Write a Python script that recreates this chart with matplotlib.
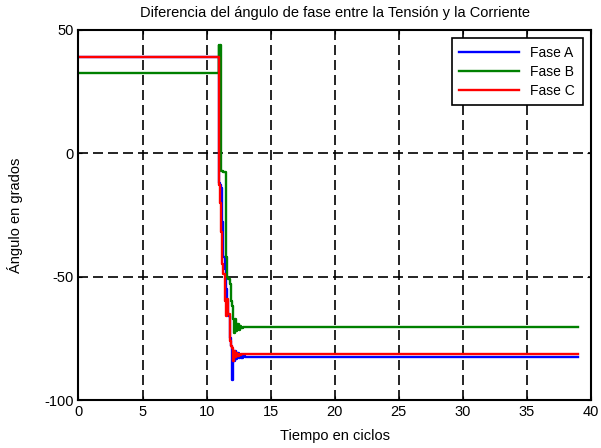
import numpy as np
import matplotlib
matplotlib.use("Agg")
import matplotlib.pyplot as plt

plt.rcParams['font.family'] = ['Liberation Sans', 'DejaVu Sans']
plt.rcParams['axes.unicode_minus'] = False

# tiempo (ciclos) y ángulo de fase por fase
t = [0, 10.95, 11.0, 11.05, 11.1, 11.2, 11.3, 11.4, 11.5, 11.6, 11.7, 11.8, 11.9,
     12.0, 12.05, 12.1, 12.2, 12.3, 12.4, 12.5, 12.6, 12.7, 12.8, 13.0, 39]
fase_a = [39, 39, -12, -13, -14, -28, -42, -47, -55, -60, -66, -75, -78,
          -92, -80, -84, -80, -83.5, -81, -83, -82, -82.8, -82.2, -82.4, -82.4]
fase_b = [32.6, 44, 33, 44, -7, -7.2, -7.5, -7.5, -42, -50, -51, -53, -60,
          -62, -67, -73, -67, -72, -69, -71.5, -70, -70.8, -70.3, -70.3, -70.3]
fase_c = [39, 39, -12.8, -20, -32, -45, -49, -60, -66, -59, -65, -76, -78,
          -79, -84, -80, -82.5, -81, -82, -81.3, -81.7, -81.5, -81.5, -81.5, -81.5]

fig = plt.figure(figsize=(6.01, 4.48), dpi=100)
ax = fig.add_axes([0.1306, 0.1071, 0.8528, 0.826])

ax.plot(t, fase_a, color='#0000ff', lw=1.7, drawstyle='steps-post', label='Fase A')
ax.plot(t, fase_b, color='#008000', lw=1.7, drawstyle='steps-post', label='Fase B')
ax.plot(t, fase_c, color='#ff0000', lw=1.7, drawstyle='steps-post', label='Fase C')

ax.set_xlim(0, 40)
ax.set_ylim(-100, 50)
ax.set_xticks(np.arange(0, 41, 5))
ax.set_yticks([-100, -50, 0, 50])
ax.grid(True, color='black', linestyle=(0, (6, 3)), linewidth=1.2)
ax.tick_params(direction='in', top=True, right=True, length=3, labelsize=10.5)
for s in ax.spines.values():
    s.set_linewidth(1.5)

ax.set_title('Diferencia del ángulo de fase entre la Tensión y la Corriente', fontsize=10.5, pad=9)
ax.set_xlabel('Tiempo en ciclos', fontsize=10.5, labelpad=7)
ax.set_ylabel('Ángulo en grados', fontsize=10.5, labelpad=15)

leg = ax.legend(loc='upper right', fontsize=10, fancybox=False, framealpha=1,
                edgecolor='black', borderaxespad=0.6, handlelength=4.3,
                labelspacing=0.35, borderpad=0.55)
leg.get_frame().set_linewidth(1.2)

fig.savefig('out.png', dpi=100)
